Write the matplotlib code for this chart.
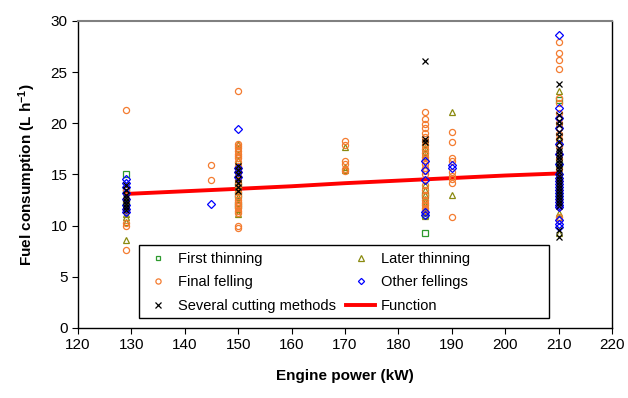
import matplotlib
matplotlib.use("Agg")
import matplotlib.pyplot as plt
from matplotlib.patches import Rectangle

plt.rcParams['font.family'] = ['Liberation Sans', 'DejaVu Sans']
plt.rcParams['mathtext.fontset'] = 'custom'
plt.rcParams['mathtext.rm'] = 'Liberation Sans:bold'
plt.rcParams['mathtext.default'] = 'rm'

# first thinning
ft_x = [129, 129, 129, 150, 150, 150, 185, 185, 185, 210, 210, 210]
ft_y = [15.0, 13.5, 12.2, 14.0, 13.0, 12.0, 11.0, 9.3, 13.0, 22.3, 16.0, 13.0]

# later thinning
lt_x = ([129] * 6 + [150] * 13 + [170] * 3 + [185] * 14 + [190] * 2 + [210] * 6)
lt_y = [8.6, 10.4, 10.8, 11.1, 12.0, 12.5,
        11.1, 11.6, 12.2, 12.8, 13.4, 14.0, 14.6, 15.2, 15.8, 16.4, 17.0, 17.6, 18.0,
        17.7, 15.7, 15.4,
        10.9, 11.3, 11.7, 12.0, 12.3, 12.6, 13.0, 13.5, 14.0, 16.8, 17.2, 17.6, 18.0, 18.3,
        21.1, 13.0,
        23.2, 11.2, 10.8, 9.3, 20.0, 18.5]

# final felling
ff_x = ([129] * 7 + [145] * 2 + [150] * 26 + [170] * 6 + [185] * 24 + [190] * 9 + [210] * 22)
ff_y = [21.3, 7.6, 10.0, 10.3, 11.5, 12.5, 13.5,
        15.9, 14.5,
        23.2, 18.0, 17.8, 17.6, 17.3, 17.0, 16.8, 16.6, 16.2, 15.8, 15.3, 14.9, 14.5,
        14.1, 13.7, 13.3, 12.9, 12.5, 12.3, 12.1, 11.9, 11.7, 11.4, 11.2, 10.0, 9.8,
        18.3, 17.9, 16.3, 16.0, 15.5, 15.3,
        21.1, 20.4, 19.9, 19.5, 19.1, 18.7, 18.3, 17.9, 17.5, 17.1, 16.7, 16.4, 16.0,
        15.6, 15.3, 15.0, 14.0, 13.5, 13.0, 12.5, 12.2, 12.0, 11.7, 11.5,
        19.2, 18.2, 16.6, 16.3, 15.2, 14.9, 14.6, 14.2, 10.8,
        27.9, 26.9, 26.2, 25.3, 22.5, 22.0, 21.0, 20.5, 20.0, 19.5, 19.0, 18.5, 17.8,
        17.0, 16.5, 15.5, 14.5, 13.5, 12.5, 11.8, 10.8, 10.6]

# other fellings
of_x = ([129] * 8 + [145] + [150] * 4 + [185] * 5 + [190] * 2 + [210] * 22)
of_y = [14.6, 14.2, 13.8, 13.2, 12.6, 12.0, 11.6, 11.3,
        12.1,
        19.4, 15.6, 15.2, 14.8,
        16.3, 15.4, 14.5, 11.3, 11.0,
        15.9, 15.6,
        28.6, 21.5, 20.5, 19.5, 18.0, 17.0, 16.0, 15.0, 14.7, 14.4, 14.1, 13.8, 13.5,
        13.2, 12.9, 12.6, 12.3, 12.0, 11.8, 10.6, 10.2, 9.9]

# several cutting methods
sc_x = ([129] * 8 + [150] * 7 + [185] * 3 + [210] * 29)
sc_y = [13.0, 12.7, 12.4, 12.1, 11.8, 11.5, 14.0, 13.5,
        15.8, 15.4, 15.0, 14.6, 14.2, 13.8, 13.4,
        26.1, 18.5, 18.2,
        23.8, 20.8, 20.2, 19.8, 19.2, 18.8, 18.2, 17.6, 17.3, 17.0, 16.7, 16.4, 16.1,
        15.8, 15.5, 15.2, 14.9, 14.6, 14.3, 14.0, 13.7, 13.4, 13.1, 12.8, 12.5, 12.2,
        11.9, 9.6, 8.9]

# function
fn_x = [129, 150, 160, 170, 180, 190, 200, 210]
fn_y = [13.1, 13.6, 13.85, 14.15, 14.4, 14.65, 14.9, 15.1]

fig = plt.figure(figsize=(6.28, 3.98), dpi=100)
ax = fig.add_axes([0.1242, 0.1759, 0.8503, 0.7714])

ms = 4.4
mew = 0.9
h_fn, = ax.plot(fn_x, fn_y, color='#FF0000', lw=2.8, zorder=1, label='Function')
h_ft, = ax.plot(ft_x, ft_y, 's', ms=ms - 0.5, mfc='none', mec='#2E9A2E', mew=mew, zorder=2, label='First thinning')
h_lt, = ax.plot(lt_x, lt_y, '^', ms=ms + 0.3, mfc='none', mec='#8A8A10', mew=mew, zorder=3, label='Later thinning')
h_ff, = ax.plot(ff_x, ff_y, 'o', ms=ms, mfc='none', mec='#F47C30', mew=mew, zorder=4, label='Final felling')
h_of, = ax.plot(of_x, of_y, 'D', ms=ms - 0.7, mfc='none', mec='#0000FF', mew=mew, zorder=5, label='Other fellings')
h_sc, = ax.plot(sc_x, sc_y, 'x', ms=ms, mec='#000000', mew=mew, zorder=6, label='Several cutting methods')

ax.set_xlim(120, 220)
ax.set_ylim(0, 30)
ax.set_xticks(range(120, 221, 10))
ax.set_yticks(range(0, 31, 5))
ax.tick_params(direction='out', length=4, width=0.8, labelsize=11, colors='black')

ax.spines['top'].set_color('#808080')
ax.spines['top'].set_linewidth(1.5)
ax.spines['right'].set_color('black')
ax.spines['right'].set_linewidth(1.0)
ax.spines['left'].set_linewidth(1.0)
ax.spines['bottom'].set_linewidth(1.0)

ax.set_xlabel('Engine power (kW)', fontsize=11, fontweight='bold', labelpad=12)
ax.set_ylabel('Fuel consumption (L h$^{-1}$)', fontsize=11, fontweight='bold', labelpad=9)

# legend box (Excel style, wider than its content)
ax.add_patch(Rectangle((0.114, 0.033), 0.768, 0.237, transform=ax.transAxes,
                       facecolor='white', edgecolor='black', lw=1.0, zorder=10))

handles = [h_ft, h_ff, h_sc, h_lt, h_of, h_fn]
leg = ax.legend(handles=handles, labels=[h.get_label() for h in handles], ncol=2,
                loc='upper left', bbox_to_anchor=(0.1217, 0.248),
                fontsize=10.5, frameon=False,
                borderpad=0, labelspacing=0.66, handlelength=2.0, handletextpad=0.4,
                columnspacing=0.7, markerscale=0.85, borderaxespad=0)
leg.set_zorder(11)

fig.savefig('out.png', dpi=100)
